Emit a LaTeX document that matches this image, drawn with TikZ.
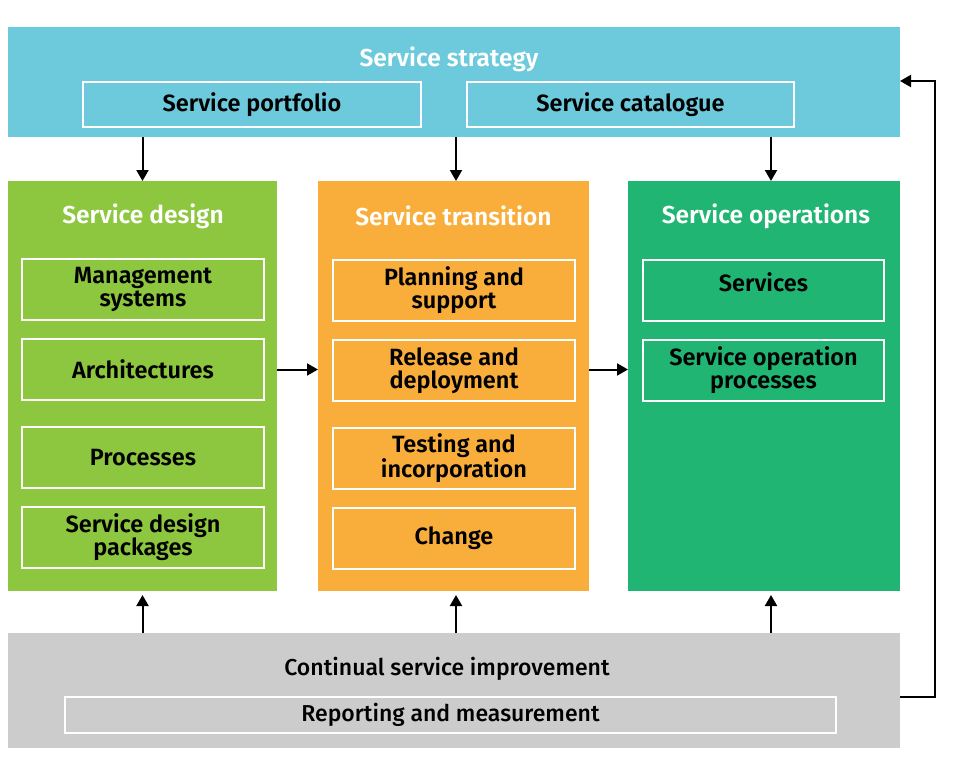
\documentclass[tikz,border=0pt]{standalone}
\usepackage{fontspec}
\setmainfont{Fira Sans}[UprightFont={* SemiBold}, BoldFont={* Bold}]
\newfontfamily\medfont{Fira Sans}[UprightFont={* Medium}]
\usetikzlibrary{arrows.meta}
\definecolor{strat}{HTML}{6CCADC}
\definecolor{design}{HTML}{8DC63F}
\definecolor{trans}{HTML}{F9AE3B}
\definecolor{oper}{HTML}{21B573}
\definecolor{csi}{HTML}{CCCCCC}
\begin{document}
\begin{tikzpicture}[x=1pt,y=-1pt,
  panel/.style={draw=none,inner sep=0pt,outer sep=0pt},
  title/.style={text=white,font=\fontsize{24.5}{26}\selectfont,inner sep=0pt},
  sub/.style={draw=white,line width=2pt,inner sep=0pt,outer sep=0pt,align=center,
    font=\fontsize{23.5}{23}\selectfont,text=black},
  arr/.style={line width=2pt,-{Triangle[length=11pt,width=12pt]}}]
\useasboundingbox (0,0) rectangle (959,784);
% panels
\node[panel,fill=strat,minimum width=892pt,minimum height=110pt] (strat) at (454,82) {};
\node[title] (strattitle) at (449,59) {Service strategy};
\node[sub,minimum width=338pt,minimum height=45pt] (portfolio) at (252,104.5) {Service portfolio};
\node[sub,minimum width=327pt,minimum height=45pt] (catalogue) at (630.5,104.5) {Service catalogue};

\node[panel,fill=design,minimum width=269pt,minimum height=410pt] (design) at (142.5,386) {};
\node[title] (designtitle) at (143,216) {Service design};
\node[sub,fill=design,minimum width=242pt,minimum height=61pt] (d1) at (143,289.5) {Management\\systems};
\node[sub,fill=design,minimum width=242pt,minimum height=61pt] (d2) at (143,369.5) {Architectures};
\node[sub,fill=design,minimum width=242pt,minimum height=61pt] (d3) at (143,457.5) {Processes};
\node[sub,fill=design,minimum width=242pt,minimum height=61pt] (d4) at (143,537.5) {Service design\\packages};

\node[panel,fill=trans,minimum width=271pt,minimum height=410pt] (trans) at (453.5,386) {};
\node[title] (transtitle) at (453.5,216) {Service transition};
\node[sub,fill=trans,minimum width=242pt,minimum height=61pt] (t1) at (454,290.5) {Planning and\\support};
\node[sub,fill=trans,minimum width=242pt,minimum height=61pt] (t2) at (454,370.5) {Release and\\deployment};
\node[sub,fill=trans,minimum width=242pt,minimum height=61pt] (t3) at (454,458.5) {Testing and\\incorporation};
\node[sub,fill=trans,minimum width=242pt,minimum height=61pt] (t4) at (454,538.5) {Change};

\node[panel,fill=oper,minimum width=272pt,minimum height=410pt] (oper) at (764,386) {};
\node[title] (opertitle) at (766,216) {Service operations};
\node[sub,fill=oper,minimum width=241pt,minimum height=61pt,text depth=12pt,text height=14pt] (o1) at (763.5,290.5) {Services};
\node[sub,fill=oper,minimum width=241pt,minimum height=61pt] (o2) at (763.5,370.5) {Service operation\\processes};

\node[panel,fill=csi,minimum width=892pt,minimum height=115pt] (cont) at (454,690.5) {};
\node[inner sep=0pt,font=\medfont\fontsize{23}{24}\selectfont] (conttitle) at (447,669) {Continual service improvement};
\node[sub,minimum width=771pt,minimum height=36pt,font=\medfont\fontsize{23}{24}\selectfont] (report) at (450.5,715) {Reporting and measurement};

% arrows
\draw[arr] (design.north |- strat.south) -- (design.north);
\draw[arr] ([xshift=2.5pt]trans.north |- strat.south) -- ([xshift=2.5pt]trans.north);
\draw[arr] ([xshift=7pt]oper.north |- strat.south) -- ([xshift=7pt]oper.north);
\draw[arr] (design.east |- d2.east) -- (trans.west |- d2.east);
\draw[arr] (trans.east |- d2.east) -- (oper.west |- d2.east);
\draw[arr] (design.south |- cont.north) -- ([yshift=-4pt]design.south);
\draw[arr] ([xshift=2.5pt]trans.south |- cont.north) -- ([xshift=2.5pt,yshift=-4pt]trans.south);
\draw[arr] ([xshift=7pt]oper.south |- cont.north) -- ([xshift=7pt,yshift=-4pt]oper.south);
\draw[arr] ([yshift=-6.5pt]cont.east) -- ++(35,0) |- ([yshift=1pt]strat.east);
\end{tikzpicture}
\end{document}
